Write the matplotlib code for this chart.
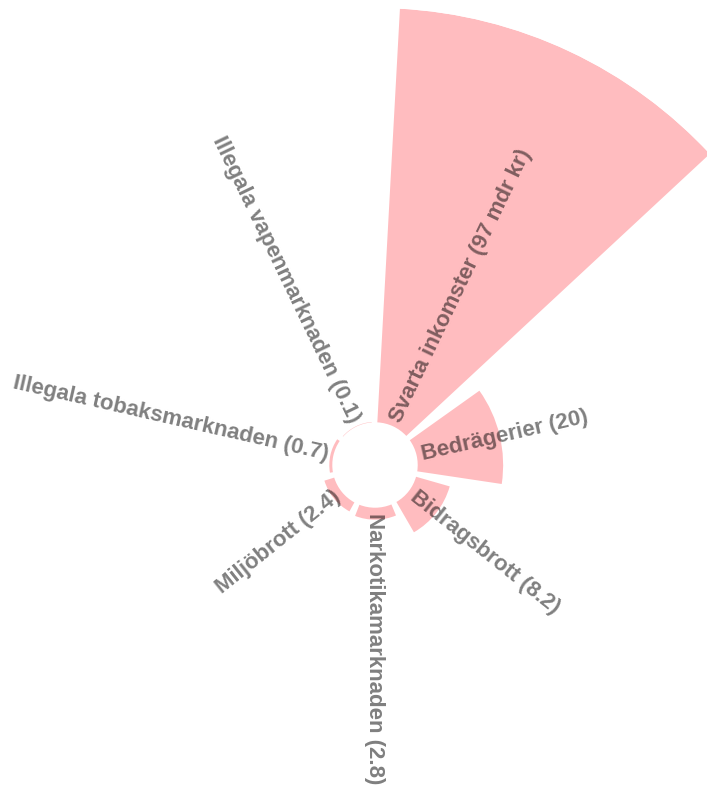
import numpy as np
import matplotlib.pyplot as plt

categories = ["Svarta inkomster", "Bedrägerier", "Bidragsbrott", "Narkotikamarknaden",
              "Miljöbrott", "Illegala tobaksmarknaden", "Illegala vapenmarknaden"]
values = [97, 20, 8.2, 2.8, 2.4, 0.7, 0.1]
labels = ["Svarta inkomster (97 mdr kr)", "Bedrägerier (20)", "Bidragsbrott (8.2)",
          "Narkotikamarknaden (2.8)", "Miljöbrott (2.4)",
          "Illegala tobaksmarknaden (0.7)", "Illegala vapenmarknaden (0.1)"]

hole = 10  # inner empty radius in data units
n = len(values)
step = 2 * np.pi / n
theta = np.arange(n) * step + step / 2
shift = np.radians(-0.6)

fig = plt.figure(figsize=(7.07, 7.92), dpi=100)
# polar axes centred at (375, 465) px, radius 457 px -> extends past the figure
cx, cy, R = 375, 465, 457
ax = fig.add_axes([(cx - R) / 707, (792 - cy - R) / 792, 2 * R / 707, 2 * R / 792],
                  projection='polar')
ax.set_theta_zero_location('N')
ax.set_theta_direction(-1)
ax.bar(theta + shift, values, width=step * 0.855, bottom=hole, color='#ffbcbf',
       edgecolor='none', align='center')
ax.set_ylim(0, 97 + hole)
ax.set_axis_off()

for t, lab in zip(theta, labels):
    deg = np.degrees(t)
    rot = 90 - deg
    if deg <= 180:
        ha = 'left'
    else:
        rot += 180
        ha = 'right'
    ax.text(t, hole + 1.2, lab, rotation=rot, rotation_mode='anchor', ha=ha, va='center',
            fontsize=16, fontweight='bold', family='Liberation Sans',
            color='black', alpha=0.5)

fig.savefig('out.png', dpi=100)
